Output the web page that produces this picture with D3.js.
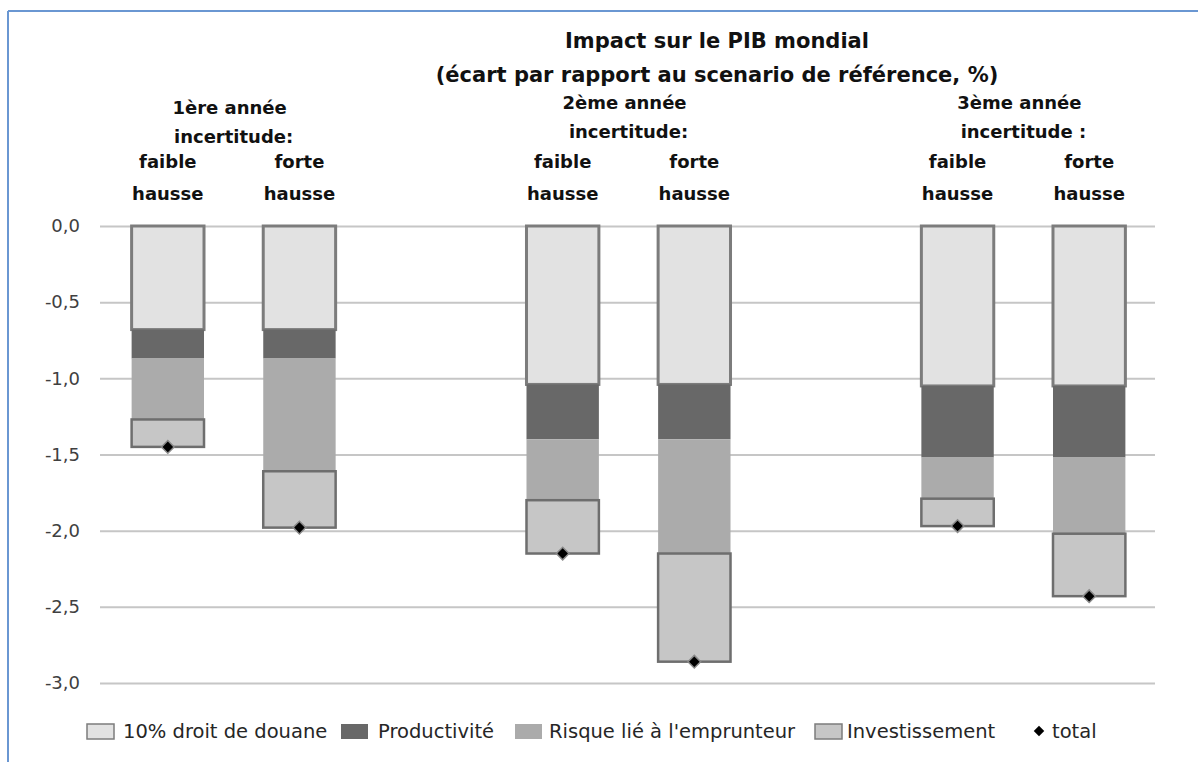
<!DOCTYPE html>
<html>
<head>
<meta charset="utf-8">
<script src="https://cdn.jsdelivr.net/npm/d3@7"></script>
<style>
  body { margin: 0; background: #fff; }
  svg { display: block; font-family: "DejaVu Sans", sans-serif; }
</style>
</head>
<body>
<div id="chart"></div>
<script>
// slots on the x axis (two empty slots separate the years)
var slots = ["a1-faible", "a1-forte", "vide1", "a2-faible", "a2-forte", "vide2", "a3-faible", "a3-forte"];
var barSlots = ["a1-faible", "a1-forte", "a2-faible", "a2-forte", "a3-faible", "a3-forte"];
var barLabels = [["faible", "hausse"], ["forte", "hausse"], ["faible", "hausse"], ["forte", "hausse"], ["faible", "hausse"], ["forte", "hausse"]];
var groupLabels = [["1ère année", "incertitude:"], ["2ème année", "incertitude:"], ["3ème année", "incertitude :"]];

// series values (% deviation)
var droitDouane = [-0.68, -0.68, -1.04, -1.04, -1.05, -1.05];
var productivite = [-0.19, -0.19, -0.36, -0.36, -0.47, -0.47];
var risque = [-0.40, -0.74, -0.40, -0.75, -0.27, -0.50];
var investissement = [-0.18, -0.37, -0.35, -0.71, -0.18, -0.41];
var total = [-1.45, -1.98, -2.15, -2.86, -1.97, -2.43];

var seriesNames = ["10% droit de douane", "Productivité", "Risque lié à l'emprunteur", "Investissement"];
var yTicks = [0, -0.5, -1, -1.5, -2, -2.5, -3];

var W = 1198, H = 762;
var fr = d3.formatLocale({decimal: ",", thousands: " ", grouping: [3], currency: ["", " €"], minus: "-"});

var svg = d3.select("#chart").append("svg")
    .attr("width", W)
    .attr("height", H);

// blue frame (top and left edges visible)
svg.append("line").attr("x1", 8).attr("x2", W).attr("y1", 11).attr("y2", 11)
    .attr("stroke", "#6a97d2").attr("stroke-width", 2);
svg.append("line").attr("x1", 8).attr("x2", 8).attr("y1", 11).attr("y2", H)
    .attr("stroke", "#6a97d2").attr("stroke-width", 2);

var x = d3.scaleBand().domain(slots).range([102, 1155]).paddingInner(0.45).paddingOuter(0.225);
var y = d3.scaleLinear().domain([-3, 0]).range([683, 226]);

// gridlines + tick labels
var yAxis = svg.append("g")
    .attr("transform", "translate(100,0)")
    .call(d3.axisLeft(y).tickValues(yTicks).tickSize(-1055).tickPadding(20).tickFormat(fr.format(".1f")));
yAxis.select(".domain").remove();
yAxis.selectAll("line").attr("stroke", "#c6c6c6").attr("stroke-width", 2);
yAxis.selectAll("text").attr("fill", "#404040").style("font-size", "18px").style("font-family", "DejaVu Sans, sans-serif");

// stacked bars
var rows = barSlots.map(function(s, i) {
  return {slot: s, d: droitDouane[i], p: productivite[i], r: risque[i], inv: investissement[i], total: total[i]};
});
var stack = d3.stack().keys(["d", "p", "r", "inv"]).offset(d3.stackOffsetDiverging);
var layers = stack(rows);

var fills = ["#e2e2e2", "#686868", "#ababab", "#c6c6c6"];
var strokes = ["#7c7c7c", "none", "none", "#6e6e6e"];
var strokeW = [3, 0, 0, 2.5];

layers.forEach(function(layer, k) {
  svg.append("g").selectAll("rect")
    .data(layer)
    .join("rect")
      .attr("x", function(d) { return x(d.data.slot); })
      .attr("width", x.bandwidth())
      .attr("y", function(d) { return Math.min(y(d[0]), y(d[1])); })
      .attr("height", function(d) { return Math.abs(y(d[0]) - y(d[1])); })
      .attr("fill", fills[k])
      .attr("stroke", strokes[k])
      .attr("stroke-width", strokeW[k]);
});

// total markers (square turned 45 degrees)
svg.append("g").selectAll("path")
  .data(rows)
  .join("path")
    .attr("transform", function(d) { return "translate(" + (x(d.slot) + x.bandwidth() / 2) + "," + y(d.total) + ") rotate(45)"; })
    .attr("d", d3.symbol(d3.symbolSquare, 80))
    .attr("fill", "#000")
    .attr("stroke", "#8a8a8a")
    .attr("stroke-width", 1.5);

// title
var title = svg.append("text").attr("text-anchor", "middle").attr("font-weight", "bold")
    .style("font-size", "21px").attr("fill", "#111");
title.append("tspan").attr("x", 717).attr("y", 48).text("Impact sur le PIB mondial");
title.append("tspan").attr("x", 717).attr("y", 82).text("(écart par rapport au scenario de référence, %)");

// bar labels
rows.forEach(function(d, i) {
  var cx = x(d.slot) + x.bandwidth() / 2;
  var t = svg.append("text").attr("text-anchor", "middle").attr("font-weight", "bold")
      .style("font-size", "18px").attr("fill", "#111");
  t.append("tspan").attr("x", cx).attr("y", 168).text(barLabels[i][0]);
  t.append("tspan").attr("x", cx).attr("y", 200).text(barLabels[i][1]);
});

// group labels
groupLabels.forEach(function(g, i) {
  var a = x(barSlots[2 * i]), b = x(barSlots[2 * i + 1]) + x.bandwidth();
  var cx = (a + b) / 2;
  var dy = i == 0 ? 5 : 0;
  var t = svg.append("text").attr("text-anchor", "middle").attr("font-weight", "bold")
      .style("font-size", "18px").attr("fill", "#111");
  t.append("tspan").attr("x", cx - 4).attr("y", 109 + dy).text(g[0]);
  t.append("tspan").attr("x", cx).attr("y", 138 + dy).text(g[1]);
});

// legend
var legendX = [87, 341, 515, 815];
var legendTextX = [123, 378, 549, 847];
var leg = svg.append("g").style("font-size", "19.5px").attr("fill", "#262626");
seriesNames.forEach(function(n, k) {
  leg.append("rect")
    .attr("x", legendX[k]).attr("y", 724).attr("width", 27).attr("height", 15)
    .attr("fill", fills[k])
    .attr("stroke", strokes[k] == "none" ? "none" : "#7c7c7c")
    .attr("stroke-width", 1.5);
  leg.append("text").attr("x", legendTextX[k]).attr("y", 738).text(n);
});
leg.append("path")
  .attr("transform", "translate(1039,731) rotate(45)")
  .attr("d", d3.symbol(d3.symbolSquare, 55))
  .attr("fill", "#000");
leg.append("text").attr("x", 1052).attr("y", 738).text("total");
</script>
</body>
</html>
